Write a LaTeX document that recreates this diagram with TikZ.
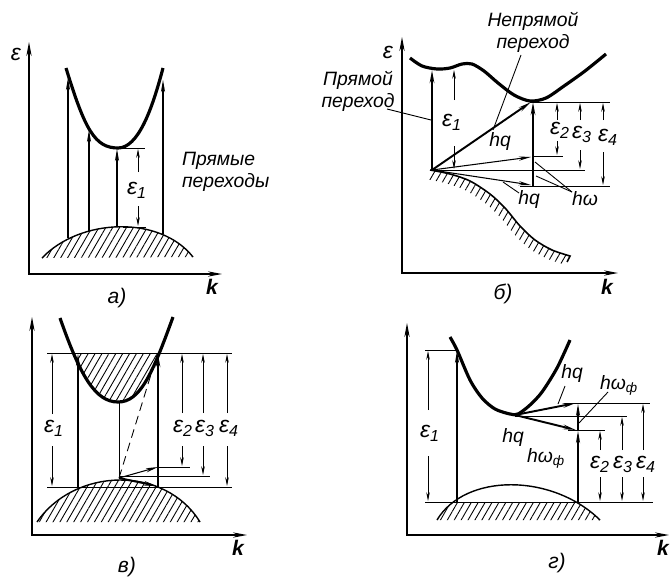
\documentclass[tikz,border=0pt]{standalone}
\usepackage{fontspec}
\setmainfont{Liberation Sans}
\usetikzlibrary{arrows.meta,patterns.meta}

\begin{document}
\begin{tikzpicture}[x=0.02cm, y=-0.02cm,
    axis/.style={{Stealth[length=8pt,width=3pt]}-{Stealth[length=8pt,width=3pt]}, line width=0.7pt},
    band/.style={line width=1.8pt},
    trans/.style={-{Stealth[length=7pt,width=2.4pt]}, line width=0.6pt},
    strong/.style={trans, line width=1.1pt},
    dim/.style={-{Stealth[length=5pt,width=2pt]}, line width=0.4pt},
    lvl/.style={line width=0.5pt},
    hatch/.style={pattern={Lines[angle=60,distance=3.4pt,line width=0.5pt]}},
    lbl/.style={font=\fontsize{11}{12.5}\selectfont\itshape, inner sep=1pt},
    eps/.style={font=\fontsize{13}{13}\selectfont\itshape, inner sep=1pt},
    tag/.style={font=\fontsize{12}{12}\selectfont\itshape, inner sep=1pt}
]
    \useasboundingbox (0,0) rectangle (671,578);

    % а) прямые переходы
    \draw[axis] (29,42) -- (29,274) -- (222,274);
    \node[eps] (ea) at (16,54) {ε};
    \node[tag] (ka) at (212,287) {\textbf{k}};
    \fill[hatch] (42,258) .. controls (80,218) and (160,215) .. (193,257) -- cycle;
    \draw[lvl, line width=0.8pt] (42,258) .. controls (80,218) and (160,215) .. (193,257);
    \draw[band] (66,68) .. controls (85,130) and (95,148) .. (118,148) .. controls (138,148) and (152,110) .. (163,68);
    \draw[trans] (68,238) -- (68,78);
    \draw[trans] (89,231) -- (89,130);
    \draw[trans] (117,227) -- (117,149);
    \draw[trans] (163,234) -- (163,80);
    \draw[lvl] (117,148) -- (145,148);
    \draw[lvl] (123,227) -- (146,227);
    \draw[dim] (138,172) -- (138,149);
    \draw[dim] (138,206) -- (138,226);
    \node[eps] (e1a) at (137,190) {ε\textsubscript{1}};
    \node[lbl, align=left, anchor=west] (pa) at (180,172) {Прямые\\переходы};
    \node[tag] (ta) at (117,298) {а)};

    % б) прямой и непрямой переходы
    \draw[axis] (402,37) -- (402,273) -- (618,273);
    \node[eps] (eb) at (388,52) {ε};
    \node[tag] (kb) at (607,287) {\textbf{k}};
    \draw[band] plot[smooth] coordinates {(410,58) (422,66) (437,69) (450,68) (462,64) (472,64) (484,71) (498,83) (514,95) (530,101) (546,98) (564,86) (585,71) (606,54)};
    \fill[hatch] plot[smooth] coordinates {(430,170) (450,174) (470,181) (490,194) (505,208) (520,226) (535,240) (552,250) (570,256)}
        -- (566,265) -- plot[smooth] coordinates {(566,265) (548,259) (530,249) (515,235) (500,217) (485,203) (465,190) (445,183) (425,179)} -- cycle;
    \draw[lvl, line width=0.9pt] plot[smooth] coordinates {(430,170) (450,174) (470,181) (490,194) (505,208) (520,226) (535,240) (552,250) (570,256)} -- (567,262);
    \coordinate (vb) at (432,170);
    \draw[strong] (vb) -- (432,70);
    \draw[strong] (vb) -- (531,102);
    \draw[strong] (533,186) -- (533,102);
    \draw[trans] (vb) -- (531,157);
    \draw[trans] (vb) -- (531,185);
    \draw[lvl] (530,102) -- (610,102);
    \draw[lvl] (533,156) -- (563,156);
    \draw[lvl] (vb) -- (585,170);
    \draw[lvl] (520,186) -- (610,186);
    \draw[dim] (454,100) -- (454,70);
    \draw[dim] (454,146) -- (454,169);
    \draw[dim] (557,120) -- (557,103);
    \draw[dim] (557,141) -- (557,155);
    \draw[dim] (580,120) -- (580,103);
    \draw[dim] (580,150) -- (580,169);
    \draw[dim] (603,120) -- (603,103);
    \draw[dim] (603,152) -- (603,185);
    \node[eps] (e1b) at (452,122) {ε\textsubscript{1}};
    \node[eps] (e2b) at (560,130) {ε\textsubscript{2}};
    \node[eps] (e3b) at (582,134) {ε\textsubscript{3}};
    \node[eps] (e4b) at (608,137) {ε\textsubscript{4}};
    \node[lbl] (hqb) at (500,142) {hq};
    \node[lbl] (hqc) at (529,199) {hq};
    \node[lbl] (hwb) at (585,199) {hω};
    \draw[lvl] (519,193) -- (503,182);
    \draw[lvl] (572,192) -- (535,162);
    \draw[lvl] (572,192) -- (536,176);
    \node[lbl, align=center] (npb) at (533,32) {Непрямой\\переход};
    \draw[lvl] (521,55) -- (493,130);
    \node[lbl, align=center] (pb) at (358,91) {Прямой\\переход};
    \draw[lvl] (387,109) -- (431,120);
    \node[tag] (tb) at (503,294) {б)};

    % в) вырожденный полупроводник
    \draw[axis] (32,317) -- (32,535) -- (247,535);
    \node[tag] (kc) at (238,548) {\textbf{k}};
    \begin{scope}
        \clip (0,353) rectangle (300,420);
        \fill[hatch] (60,318) .. controls (80,375) and (95,402) .. (118,402) .. controls (140,402) and (152,375) .. (173,317) -- cycle;
    \end{scope}
    \draw[band] (60,318) .. controls (80,375) and (95,402) .. (118,402) .. controls (140,402) and (152,375) .. (173,317);
    \fill[hatch] (37,522) .. controls (75,467) and (165,465) .. (200,522) -- cycle;
    \draw[lvl, line width=0.8pt] (37,522) .. controls (75,467) and (165,465) .. (200,522);
    \draw[lvl] (47,353) -- (232,353);
    \draw[lvl] (47,487) -- (232,487);
    \draw[lvl] (157,467) -- (190,467);
    \draw[lvl] (120,476) -- (210,476);
    \coordinate (vc) at (119,478);
    \draw[trans] (78,487) -- (78,354);
    \draw[strong] (158,487) -- (158,354);
    \draw[lvl] (vc) -- (119,402);
    \draw[lvl, dashed, dash pattern=on 5pt off 3pt] (vc) -- (157,355);
    \draw[trans] (vc) -- (158,467);
    \draw[strong] (vc) -- (157,486);
    \draw[dim] (52,414) -- (52,354);
    \draw[dim] (52,446) -- (52,486);
    \draw[dim] (182,413) -- (182,354);
    \draw[dim] (182,446) -- (182,466);
    \draw[dim] (203,413) -- (203,354);
    \draw[dim] (203,446) -- (203,475);
    \draw[dim] (227,413) -- (227,354);
    \draw[dim] (227,446) -- (227,486);
    \node[eps] (e1c) at (54,428) {ε\textsubscript{1}};
    \node[eps] (e2c) at (183,428) {ε\textsubscript{2}};
    \node[eps] (e3c) at (205,428) {ε\textsubscript{3}};
    \node[eps] (e4c) at (229,428) {ε\textsubscript{4}};
    \node[tag] (tc) at (127,567) {в)};

    % г) переходы с участием фононов
    \draw[axis] (407,323) -- (407,535) -- (669,535);
    \node[tag] (kd) at (663,548) {\textbf{k}};
    \begin{scope}
        \clip (380,502) rectangle (680,530);
        \fill[hatch] (437,520) .. controls (465,473) and (552,473) .. (600,520) -- cycle;
    \end{scope}
    \draw[lvl, line width=0.8pt] (437,520) .. controls (465,473) and (552,473) .. (600,520);
    \draw[band] plot[smooth] coordinates {(450,337) (457,350) (470,380) (482,398) (495,409) (510,414) (518,414) (530,405) (542,392) (557,368) (570,340)};
    \draw[lvl] (425,350) -- (458,350);
    \draw[lvl] (425,502) -- (653,502);
    \draw[lvl] (565,403) -- (650,403);
    \draw[lvl] (515,416) -- (627,416);
    \draw[lvl] (568,430) -- (605,430);
    \coordinate (cd) at (515,415);
    \draw[trans] (457,502) -- (457,351);
    \draw[trans] (578,502) -- (578,431);
    \draw[trans] (578,431) -- (578,404);
    \draw[strong] (cd) -- (576,403);
    \draw[strong] (cd) -- (576,430);
    \draw[dim] (428,410) -- (428,351);
    \draw[dim] (428,456) -- (428,501);
    \draw[dim] (600,450) -- (600,431);
    \draw[dim] (600,477) -- (600,501);
    \draw[dim] (622,450) -- (622,417);
    \draw[dim] (622,477) -- (622,501);
    \draw[dim] (643,450) -- (643,404);
    \draw[dim] (643,477) -- (643,501);
    \node[eps] (e1d) at (430,433) {ε\textsubscript{1}};
    \node[eps] (e2d) at (600,464) {ε\textsubscript{2}};
    \node[eps] (e3d) at (623,464) {ε\textsubscript{3}};
    \node[eps] (e4d) at (646,464) {ε\textsubscript{4}};
    \node[lbl] (hqd) at (572,373) {hq};
    \node[lbl] (hwd) at (619,385) {hω\textsubscript{ф}};
    \node[lbl] (hqe) at (513,437) {hq};
    \node[lbl] (hwe) at (546,458) {hω\textsubscript{ф}};
    \draw[lvl] (558,404) -- (565,386);
    \draw[lvl] (608,392) -- (579,423);
    \node[tag] (td) at (557,563) {г)};
\end{tikzpicture}
\end{document}
